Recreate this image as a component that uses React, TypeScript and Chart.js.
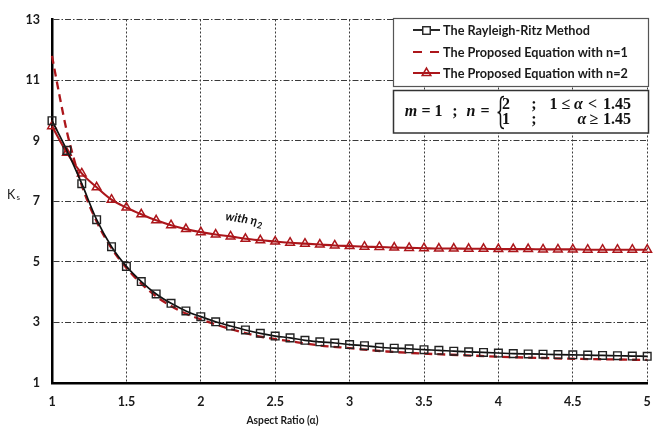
import React, { useEffect, useRef } from 'react';
import { Chart, registerables } from 'chart.js';

Chart.register(...registerables);

// ---------- data ----------
const alpha = [1.0, 1.1, 1.2, 1.3, 1.4, 1.5, 1.6, 1.7, 1.8, 1.9, 2.0, 2.1, 2.2, 2.3, 2.4, 2.5, 2.6, 2.7, 2.8, 2.9, 3.0,
  3.1, 3.2, 3.3, 3.4, 3.5, 3.6, 3.7, 3.8, 3.9, 4.0, 4.1, 4.2, 4.3, 4.4, 4.5, 4.6, 4.7, 4.8, 4.9, 5.0];

const rayleighRitz = [9.66, 8.68, 7.58, 6.39, 5.50, 4.85, 4.35, 3.94, 3.63, 3.38, 3.19, 3.02, 2.88, 2.75, 2.64, 2.55,
  2.49, 2.41, 2.36, 2.32, 2.27, 2.23, 2.18, 2.15, 2.13, 2.10, 2.08, 2.05, 2.03, 2.01, 1.99, 1.97, 1.96, 1.95, 1.94,
  1.93, 1.92, 1.91, 1.90, 1.89, 1.88];

const proposedN2 = [9.48, 8.60, 7.92, 7.46, 7.05, 6.79, 6.57, 6.37, 6.21, 6.08, 5.98, 5.90, 5.84, 5.76, 5.71, 5.67,
  5.63, 5.60, 5.57, 5.54, 5.52, 5.50, 5.49, 5.47, 5.46, 5.45, 5.44, 5.44, 5.43, 5.43, 5.42, 5.42, 5.42, 5.41, 5.41,
  5.41, 5.40, 5.40, 5.40, 5.40, 5.40];

const alphaN1 = [1.0, 1.05, 1.1, 1.15, 1.2, 1.3, 1.4, 1.5, 1.6, 1.7, 1.8, 1.9, 2.0, 2.2, 2.4, 2.6, 2.8, 3.0, 3.25,
  3.5, 3.75, 4.0, 4.25, 4.5, 4.75, 5.0];
const proposedN1 = [11.80, 10.50, 9.30, 8.35, 7.52, 6.33, 5.45, 4.80, 4.28, 3.86, 3.54, 3.29, 3.10, 2.78, 2.53, 2.38,
  2.24, 2.15, 2.04, 1.97, 1.92, 1.87, 1.83, 1.80, 1.78, 1.76];

const xTicks = [1, 1.5, 2, 2.5, 3, 3.5, 4, 4.5, 5];
const xTickLabels = ['1', '1.5', '2', '2.5', '3', '3.5', '4', '4.5', '5'];
const yTicks = [1, 3, 5, 7, 9, 11, 13];
const yTickLabels = ['1', '3', '5', '7', '9', '11', '13'];

const legendLabels = [
  'The Rayleigh-Ritz Method',
  'The Proposed Equation with n=1',
  'The Proposed Equation with n=2',
];
const xTitle = 'Aspect Ratio (\u03b1)';
const yTitleMain = 'K';
const yTitleSub = 's';
const annotationMain = 'with \u03b7';
const annotationSub = '2';

// ---------- styles ----------
const FONT = 'Lato, "Open Sans", sans-serif';
const SERIF = '"Liberation Serif", "DejaVu Serif", serif';
const RED = '#AC161B';
const BLACK = '#111';

function drawSquare(ctx: CanvasRenderingContext2D, x: number, y: number, s: number) {
  ctx.strokeRect(x - s / 2, y - s / 2, s, s);
}
function drawTriangle(ctx: CanvasRenderingContext2D, x: number, y: number, r: number) {
  ctx.beginPath();
  for (let i = 0; i < 3; i++) {
    const a = -Math.PI / 2 + (i * 2 * Math.PI) / 3;
    const px = x + Math.cos(a) * r;
    const py = y + Math.sin(a) * r;
    if (i === 0) ctx.moveTo(px, py);
    else ctx.lineTo(px, py);
  }
  ctx.closePath();
  ctx.stroke();
}

function textCondensed(ctx: CanvasRenderingContext2D, t: string, x: number, y: number, k: number) {
  ctx.save();
  ctx.translate(x, y);
  ctx.scale(k, 1);
  ctx.fillText(t, 0, 0);
  ctx.restore();
}

const overlayPlugin = {
  id: 'overlay',
  afterDraw(chart: any) {
    const ctx: CanvasRenderingContext2D = chart.ctx;
    ctx.save();

    // x axis title
    ctx.fillStyle = '#1a1a1a';
    ctx.font = `bold 12px ${FONT}`;
    ctx.textAlign = 'center';
    ctx.textBaseline = 'middle';
    {
      const w = ctx.measureText(xTitle).width;
      textCondensed(ctx, xTitle, 282.5, 420, Math.min(1, 72 / w));
    }

    // y axis title
    ctx.textAlign = 'left';
    ctx.textBaseline = 'alphabetic';
    ctx.font = `12.5px ${FONT}`;
    ctx.fillText(yTitleMain, 7, 198.5);
    ctx.font = `8px ${FONT}`;
    ctx.fillText(yTitleSub, 16.5, 200);

    // annotation "with eta_2"
    ctx.save();
    ctx.translate(225, 220);
    ctx.rotate((9 * Math.PI) / 180);
    ctx.font = `bold italic 12px ${FONT}`;
    ctx.fillStyle = '#111';
    ctx.fillText(annotationMain, 0, 0);
    const w = ctx.measureText(annotationMain).width;
    ctx.font = `bold italic 9px ${FONT}`;
    ctx.fillText(annotationSub, w + 0.5, 3);
    ctx.restore();

    // legend box
    const lx0 = 393, lx1 = 648;
    ctx.fillStyle = '#fff';
    ctx.fillRect(lx0, 18, lx1 - lx0, 69);
    ctx.strokeStyle = '#555';
    ctx.lineWidth = 1.2;
    ctx.strokeRect(lx0 + 0.5, 18.5, lx1 - lx0, 68);

    const rows = [30, 52, 73];
    // sample 1
    ctx.strokeStyle = BLACK;
    ctx.lineWidth = 1.8;
    ctx.beginPath();
    ctx.moveTo(413, rows[0]);
    ctx.lineTo(440, rows[0]);
    ctx.stroke();
    ctx.fillStyle = '#fff';
    ctx.fillRect(422.5, rows[0] - 3.5, 8, 8);
    ctx.lineWidth = 1.4;
    ctx.strokeStyle = '#222';
    drawSquare(ctx, 426.5, rows[0] + 0.5, 7.5);
    // sample 2
    ctx.strokeStyle = RED;
    ctx.lineWidth = 2.2;
    ctx.setLineDash([9, 8]);
    ctx.beginPath();
    ctx.moveTo(413, rows[1]);
    ctx.lineTo(440, rows[1]);
    ctx.stroke();
    ctx.setLineDash([]);
    // sample 3
    ctx.lineWidth = 2;
    ctx.beginPath();
    ctx.moveTo(413, rows[2]);
    ctx.lineTo(440, rows[2]);
    ctx.stroke();
    ctx.fillStyle = '#fff';
    ctx.lineWidth = 1.5;
    drawTriangle(ctx, 426.5, rows[2], 5);

    ctx.fillStyle = '#1a1a1a';
    ctx.font = `bold 13px ${FONT}`;
    ctx.textAlign = 'left';
    ctx.textBaseline = 'middle';
    const k = Math.min(1, 147 / ctx.measureText(legendLabels[0]).width);
    legendLabels.forEach((t, i) => textCondensed(ctx, t, 443, rows[i] + 0.5, k));

    // equation box
    ctx.fillStyle = '#fff';
    ctx.fillRect(lx0, 90, lx1 - lx0, 43);
    ctx.strokeStyle = '#333';
    ctx.lineWidth = 1.5;
    ctx.strokeRect(lx0 + 0.5, 90.5, lx1 - lx0, 42.5);

    ctx.fillStyle = '#111';
    ctx.textAlign = 'center';
    ctx.textBaseline = 'middle';
    const it = `bold italic 16px ${SERIF}`;
    const bd = `bold 16px ${SERIF}`;
    const put = (t: string, x: number, y: number, f: string) => {
      ctx.font = f;
      ctx.fillText(t, x, y);
    };
    const yc = 112, y1 = 104.5, y2 = 120;
    put('m', 411, yc, it);
    put('=', 426, yc, bd);
    put('1', 438.5, yc, bd);
    put(';', 455, yc, bd);
    put('n', 471, yc, it);
    put('=', 485, yc, bd);
    put('2', 506, y1, bd);
    put('1', 506, y2, bd);
    put(';', 534, y1, bd);
    put(';', 534, y2, bd);
    put('1', 553.5, y1, bd);
    put('\u2264', 566, y1, bd);
    put('\u03b1', 578.5, y1, it);
    put('<', 592.5, y1, bd);
    put('1.45', 617, y1, bd);
    put('\u03b1', 582, y2, it);
    put('\u2265', 594, y2, bd);
    put('1.45', 617, y2, bd);

    // curly brace
    ctx.strokeStyle = '#111';
    ctx.lineWidth = 1.5;
    ctx.beginPath();
    const bx = 500.5, bt = 96.5, bb = 128.5, bm = 112.5;
    ctx.moveTo(bx + 3.5, bt);
    ctx.quadraticCurveTo(bx, bt, bx, bt + 4.5);
    ctx.lineTo(bx, bm - 3.5);
    ctx.quadraticCurveTo(bx, bm, bx - 3, bm);
    ctx.quadraticCurveTo(bx, bm, bx, bm + 3.5);
    ctx.lineTo(bx, bb - 4.5);
    ctx.quadraticCurveTo(bx, bb, bx + 3.5, bb);
    ctx.stroke();

    ctx.restore();
  },
};

function App() {
  const canvasRef = useRef<HTMLCanvasElement | null>(null);

  useEffect(() => {
    document.body.style.margin = '0';
    const canvas = canvasRef.current;
    if (!canvas) return;

    const chart = new Chart(canvas, {
      type: 'line',
      data: {
        datasets: [
          {
            label: legendLabels[0],
            data: alpha.map((a, i) => ({ x: a, y: rayleighRitz[i] })),
            borderColor: BLACK,
            borderWidth: 1.7,
            pointStyle: 'rect',
            pointRadius: 5.4,
            pointBorderColor: '#222',
            pointBackgroundColor: 'rgba(255,255,255,0)',
            pointBorderWidth: 1.4,
            cubicInterpolationMode: 'monotone',
            fill: false,
          },
          {
            label: legendLabels[1],
            data: alphaN1.map((a, i) => ({ x: a, y: proposedN1[i] })),
            borderColor: RED,
            borderWidth: 2.3,
            borderDash: [8, 5],
            pointRadius: 0,
            cubicInterpolationMode: 'monotone',
            fill: false,
          },
          {
            label: legendLabels[2],
            data: alpha.map((a, i) => ({ x: a, y: proposedN2[i] })),
            borderColor: RED,
            borderWidth: 2.1,
            pointStyle: 'triangle',
            pointRadius: 5,
            pointBorderColor: RED,
            pointBackgroundColor: 'rgba(255,255,255,0)',
            pointBorderWidth: 1.5,
            cubicInterpolationMode: 'monotone',
            fill: false,
          },
        ],
      },
      options: {
        responsive: false,
        animation: false,
        devicePixelRatio: 1,
        clip: false as any,
        layout: { padding: { top: 15, right: 2, left: 0, bottom: 0 } },
        plugins: {
          legend: { display: false },
          tooltip: { enabled: false },
        },
        scales: {
          x: {
            type: 'linear',
            min: 1,
            max: 5,
            afterBuildTicks: (s: any) => {
              s.ticks = xTicks.map((v) => ({ value: v }));
            },
            afterFit: (s: any) => {
              s.height = 48;
              s.paddingLeft = 0;
              s.paddingRight = 0;
            },
            grid: { color: '#3a3a3a', lineWidth: 1, drawTicks: false },
            border: { display: true, color: '#000', width: 2.5, dash: [2, 2] },
            ticks: {
              padding: 11,
              color: '#1a1a1a',
              maxRotation: 0,
              autoSkip: false,
              font: { family: FONT, size: 12.5, weight: 'bold' },
              callback: (_v: any, i: number) => xTickLabels[i],
            },
          },
          y: {
            type: 'linear',
            min: 1,
            max: 13,
            afterBuildTicks: (s: any) => {
              s.ticks = yTicks.map((v) => ({ value: v }));
            },
            afterFit: (s: any) => {
              s.width = 52;
            },
            grid: { color: '#3a3a3a', lineWidth: 1, drawTicks: false },
            border: { display: true, color: '#000', width: 2.5, dash: [6, 2, 1.5, 2] },
            ticks: {
              padding: 12,
              color: '#1a1a1a',
              autoSkip: false,
              font: { family: FONT, size: 12.5, weight: 'bold' },
              callback: (_v: any, i: number) => yTickLabels[i],
            },
          },
        },
      } as any,
      plugins: [overlayPlugin],
    });

    return () => chart.destroy();
  }, []);

  return (
    <div style={{ position: 'fixed', left: 0, top: 0, width: 654, height: 431, background: '#fff' }}>
      <canvas ref={canvasRef} width={654} height={431} style={{ display: 'block', width: 654, height: 431 }} />
    </div>
  );
}

export default App;
